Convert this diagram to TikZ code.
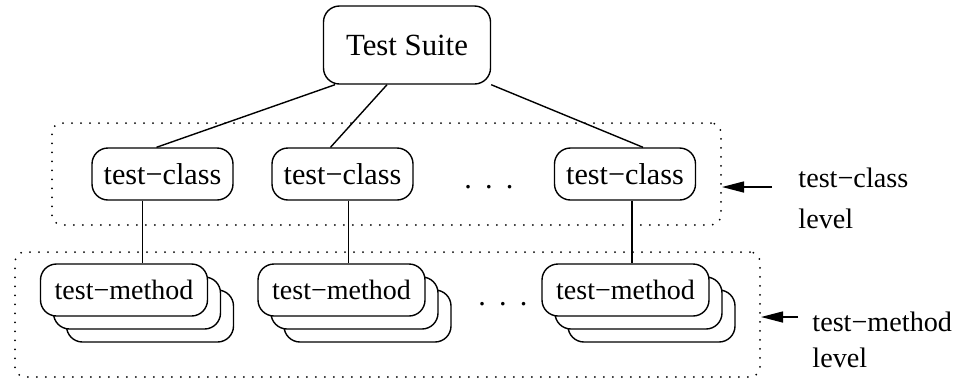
\documentclass[tikz,border=0pt]{standalone}
\usepackage{fontspec}
\setmainfont{Liberation Serif}
\usepackage{tikz}
\usetikzlibrary{
  arrows.meta,
  positioning
}
\tikzset{
  suiteBox/.style={
    rectangle,
    rounded corners=8pt,
    draw=black,
    line width=0.7pt,
    minimum width=83.5pt,
    minimum height=39pt,
    font=\fontsize{15.4}{18}\selectfont
  },
  classBox/.style={
    rectangle,
    rounded corners=8pt,
    draw=black,
    line width=0.7pt,
    minimum width=70.5pt,
    minimum height=26pt,
    font=\fontsize{15.1}{18}\selectfont
  },
  methodCard/.style={
    rectangle,
    rounded corners=8pt,
    draw=black,
    fill=white,
    line width=0.7pt,
    minimum width=83.5pt,
    minimum height=26pt,
    font=\fontsize{14}{17}\selectfont
  },
  levelFrame/.style={
    rectangle,
    rounded corners=5pt,
    draw=black,
    line width=1pt,
    line cap=round,
    dash pattern=on 0pt off 4.5pt
  },
  levelLabel/.style={
    inner sep=0pt,
    anchor=north west,
    align=left
  },
  treeEdge/.style={
    line width=0.7pt,
    draw=black
  },
  levelArrow/.style={
    -{Triangle[length=11pt,width=5.5pt]},
    line width=0.7pt,
    draw=black
  }
}

\begin{document}
\begin{tikzpicture}[x=0.5pt, y=-0.5pt]
  \useasboundingbox (0,0) rectangle (953,382);

  % dotted level frames
  \node[levelFrame, minimum width=334.5pt, minimum height=51pt]
    (classlevel) at (386.5,174) {};
  \node[levelFrame, minimum width=372.5pt, minimum height=62.5pt]
    (methodlevel) at (387.5,314.5) {};

  \node[suiteBox] (suite) at (407,45) {Test Suite};

  \node[classBox] (c1) at (162.5,174) {test−class};
  \node[classBox] (c2) at (342.5,174) {test−class};
  \node[classBox] (c3) at (625,174) {test−class};

  \node[font=\fontsize{15.1}{18}\selectfont, anchor=base]
    (cdots) at (489,188) {.\hskip6.6pt.\hskip6.6pt.};

  % stacked method cards
  \foreach \i/\x in {1/124, 2/341.5, 3/625.5} {
    \node[methodCard] (m\i c) at (\x+26,316) {};
    \node[methodCard] (m\i b) at (\x+13,303) {};
    \node[methodCard] (m\i) at (\x,290) {test−method};
  }

  \node[font=\fontsize{15.1}{18}\selectfont, anchor=base]
    (mdots) at (503,305) {.\hskip6.6pt.\hskip6.6pt.};

  \draw[treeEdge] ([xshift=-36pt]suite.south) -- ([xshift=-3pt]c1.north);
  \draw[treeEdge] ([xshift=-10pt]suite.south) -- ([xshift=-6pt]c2.north);
  \draw[treeEdge] (suite.south east) -- ([xshift=9pt]c3.north);

  \draw[treeEdge] ([xshift=-10pt]c1.south) -- ([xshift=-10pt]c1.south |- m1.north);
  \draw[treeEdge] ([xshift=3pt]c2.south) -- ([xshift=3pt]c2.south |- m2.north);
  \draw[treeEdge] ([xshift=3.5pt]c3.south) -- ([xshift=3.5pt]c3.south |- m3.north);

  % level labels
  \node[levelLabel, font=\fontsize{14.1}{20.5}\selectfont]
    (classtext) at (798,168) {test−class\\level};
  \node[levelLabel, font=\fontsize{14.1}{18}\selectfont]
    (methodtext) at (812,312) {test−method\\level};

  \coordinate (classtail) at (772,187);
  \coordinate (methodtail) at (798,317);
  \draw[levelArrow] (classtail) -- (classtail -| classlevel.east);
  \draw[levelArrow] (methodtail) -- (methodtail -| methodlevel.east);
\end{tikzpicture}
\end{document}
